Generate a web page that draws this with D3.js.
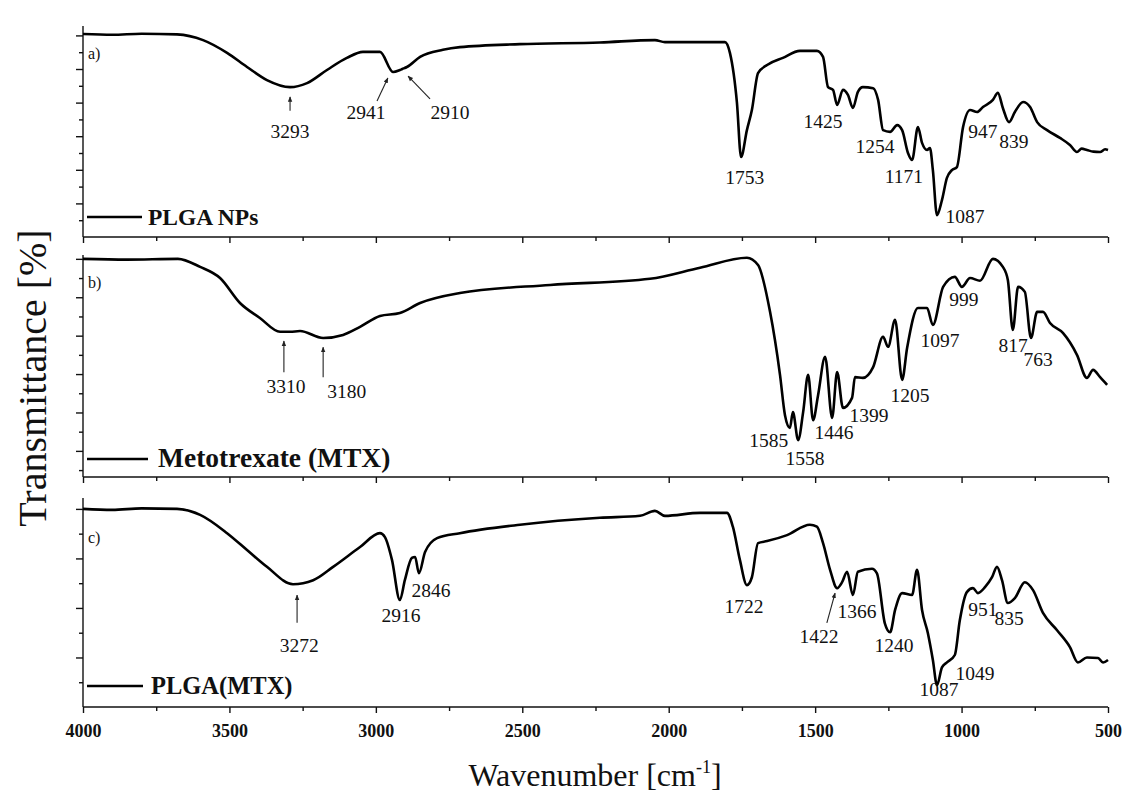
<!DOCTYPE html>
<html>
<head>
<meta charset="utf-8">
<script src="https://cdn.jsdelivr.net/npm/d3@7"></script>
<style>
  body { margin: 0; background: #fff; }
  svg text { font-family: "Liberation Serif", "Times New Roman", serif; fill: #111; }
</style>
</head>
<body>
<div id="chart"></div>
<script>
'use strict';

// ---- spectrum a) PLGA NPs ----
const wnA = [4000, 3900, 3800, 3679, 3590, 3508, 3440, 3372, 3293, 3235, 3167, 3099, 3044, 2986, 2941, 2918, 2910, 2894, 2849, 2771, 2713, 2508, 2235, 2047, 2013, 1893, 1808, 1791, 1767, 1753, 1733, 1716, 1695, 1664, 1610, 1552, 1494, 1473, 1456, 1439, 1425, 1405, 1388, 1371, 1354, 1337, 1302, 1285, 1268, 1244, 1220, 1203, 1183, 1169, 1149, 1135, 1118, 1108, 1098, 1084, 1067, 1050, 1033, 1016, 995, 971, 947, 927, 893, 876, 859, 838, 818, 790, 766, 742, 708, 664, 630, 606, 590, 572, 550, 527, 510, 500];
const tA = [60.4, 60.2, 60.5, 60.3, 58.6, 54.8, 50.6, 46.7, 44.6, 45.8, 49.7, 53.3, 55.1, 55.1, 49.1, 49.7, 50, 50.6, 53.6, 55.7, 56.5, 57.4, 57.9, 58.6, 58, 58, 58, 54.8, 39.9, 23.8, 31.8, 37.8, 48.8, 51.2, 53.3, 55.4, 55.4, 53.6, 44.6, 43.8, 39.3, 43.8, 42.3, 38.4, 43.2, 44.6, 44.3, 40.8, 31.8, 31.3, 33.3, 31.8, 25, 22.9, 32.7, 28, 25.9, 26.5, 19.9, 6.5, 11, 17.6, 19.9, 20.8, 32.7, 37.8, 37.2, 38.7, 40.8, 42.9, 38.4, 34.2, 37.2, 40.2, 38.7, 34.2, 31.8, 29.5, 27.4, 25.3, 26.3, 25.9, 25.4, 25.3, 26.1, 25.9];

// ---- spectrum b) Metotrexate ----
const wnB = [4000, 3850, 3676, 3600, 3532, 3464, 3396, 3327, 3293, 3259, 3180, 3112, 3054, 2986, 2918, 2849, 2713, 2405, 2064, 1893, 1733, 1695, 1654, 1620, 1603, 1586, 1576, 1558, 1541, 1524, 1507, 1490, 1466, 1442, 1425, 1405, 1374, 1364, 1337, 1302, 1268, 1251, 1227, 1203, 1186, 1149, 1118, 1098, 1063, 1023, 999, 971, 937, 893, 859, 842, 825, 807, 784, 763, 742, 722, 698, 654, 606, 572, 551, 527, 503];
const tB = [60, 59.8, 60, 57.9, 55, 48.5, 44.6, 41, 41, 41.2, 39.4, 40.2, 42.3, 45.1, 45.9, 48.5, 51.1, 53.2, 54.8, 57.7, 60.3, 58.4, 46.2, 29.8, 19.3, 16, 20.1, 12.8, 20.1, 29.8, 18, 24.5, 34.5, 18.6, 30.5, 21.2, 23.8, 29.2, 29, 31.8, 39.7, 37.1, 44.1, 28.5, 36.8, 47.2, 47.2, 42.8, 52.7, 55.3, 52.7, 55, 54.3, 60, 57.9, 54.5, 41.5, 52.7, 51.4, 39.4, 46.2, 46.2, 43.3, 40.7, 35, 29, 31.1, 29.2, 27.2];

// ---- spectrum c) PLGA(MTX) ----
const wnC = [4000, 3900, 3800, 3679, 3600, 3508, 3440, 3372, 3283, 3214, 3146, 3054, 2986, 2969, 2945, 2918, 2901, 2877, 2866, 2853, 2832, 2791, 2713, 2508, 2235, 2098, 2047, 2013, 1893, 1801, 1781, 1757, 1733, 1716, 1695, 1664, 1596, 1518, 1494, 1473, 1449, 1425, 1408, 1391, 1371, 1354, 1306, 1289, 1262, 1244, 1227, 1203, 1169, 1152, 1135, 1115, 1098, 1084, 1067, 1050, 1023, 1006, 982, 961, 944, 920, 896, 879, 862, 842, 818, 784, 756, 722, 674, 630, 603, 572, 534, 517, 500];
const tC = [40, 39.8, 40.1, 40, 38.8, 35.1, 31.7, 28.3, 24.8, 25.6, 28.3, 32.3, 35.1, 34.3, 29.7, 21.6, 25.6, 30.1, 30.3, 27, 31.3, 34.1, 35.1, 36.8, 38.2, 38.6, 39.6, 38.6, 39.2, 39.2, 36.4, 29.7, 24.6, 26.2, 33.1, 33.5, 34.7, 36.8, 36.4, 33.1, 27.7, 24, 25.2, 27.3, 22.6, 27.3, 27.9, 27, 16.9, 15.1, 19.6, 23, 22.6, 27.7, 19.6, 14.9, 9.5, 4.4, 8, 9, 10.5, 17.5, 23.2, 24, 23, 24.2, 26.2, 28.3, 25.6, 21, 22, 25.2, 23.6, 19, 15.5, 12.1, 9, 10, 9.9, 9, 9.5];

// peak labels: [text, wavenumber of label centre, transmittance of baseline]
const peaksA = [["3293", 3293, 29.6], ["2941", 3034, 35.2], ["2910", 2747, 35.2], ["1753", 1740, 15.7], ["1425", 1473, 32.5], ["1254", 1296, 24.9], ["1171", 1197, 16], ["1087", 988, 4.1], ["947", 927, 29.6], ["839", 821, 26.6]];
const peaksB = [["3310", 3307, 25.1], ["3180", 3099, 23.8], ["1585", 1658, 11], ["1558", 1535, 6.3], ["1446", 1436, 13.1], ["1399", 1316, 17.5], ["1205", 1176, 22.7], ["1097", 1074, 37], ["999", 992, 47.7], ["817", 824, 35.7], ["763", 739, 32.1]];
const peaksC = [["3272", 3262, 11.1], ["2916", 2914, 17.2], ["2846", 2812, 22.2], ["1722", 1743, 19], ["1422", 1487, 12.9], ["1366", 1357, 18], ["1240", 1231, 11.1], ["1087", 1077, 2.2], ["1049", 954, 5.5], ["951", 927, 18.4], ["835", 838, 16.6]];

// arrows: [wn from, t from, wn to, t to]
const arrowsA = [[3293, 37.6, 3293, 41.7], [2996, 40.5, 2959, 47.3], [2815, 41.1, 2890, 47.9]];
const arrowsB = [[3314, 30.5, 3314, 38.6], [3180, 29.2, 3180, 37.0]];
const arrowsC = [[3269, 17, 3269, 22.6], [1460, 17, 1432, 23]];

const xTicks = d3.range(4000, 499, -250);

const w = 1129;
const h = 796;

const svg = d3.select("#chart").append("svg")
  .attr("width", w)
  .attr("height", h);

svg.append("defs").append("marker")
  .attr("id", "arrow")
  .attr("viewBox", "0 0 10 10")
  .attr("refX", 9).attr("refY", 5)
  .attr("markerWidth", 5).attr("markerHeight", 6)
  .attr("orient", "auto")
  .append("path")
  .attr("d", "M0,1 L10,5 L0,9 z")
  .attr("fill", "#222");

const x = d3.scaleLinear().domain([4000, 500]).range([83, 1108]);

const panels = [
  { wn: wnA, t: tA, peaks: peaksA, arrows: arrowsA, top: 26, bottom: 237, dom: [0, 62.8], ticks: d3.range(5, 61, 5),
    tag: "a)", tagY: 59, name: "PLGA NPs", nameSize: 23.5, legY: 217, legX2: 142, textX: 148 },
  { wn: wnB, t: tB, peaks: peaksB, arrows: arrowsB, top: 255, bottom: 477, dom: [3.2, 61], ticks: d3.range(5, 61, 5),
    tag: "b)", tagY: 288, name: "Metotrexate (MTX)", nameSize: 27.5, legY: 459, legX2: 148, textX: 158 },
  { wn: wnC, t: tC, peaks: peaksC, arrows: arrowsC, top: 498, bottom: 707, dom: [0, 42.2], ticks: d3.range(5, 41, 5),
    tag: "c)", tagY: 543, name: "PLGA(MTX)", nameSize: 24.5, legY: 686, legX2: 143, textX: 151 }
];

panels.forEach((p, i) => {
  const y = d3.scaleLinear().domain(p.dom).range([p.bottom, p.top]);
  const g = svg.append("g");

  // left axis: major + minor ticks pointing out
  const major = p.ticks.filter(v => v % 10 === 0);
  const minor = p.ticks.filter(v => v % 10 !== 0);
  g.append("g").attr("transform", "translate(83,0)")
    .call(d3.axisLeft(y).tickValues(major).tickSize(7).tickFormat(""))
    .call(a => a.select(".domain").remove());
  g.append("g").attr("transform", "translate(83,0)")
    .call(d3.axisLeft(y).tickValues(minor).tickSize(4).tickFormat(""))
    .call(a => a.select(".domain").remove());
  g.append("line")
    .attr("x1", 83).attr("x2", 83)
    .attr("y1", p.top).attr("y2", p.bottom);

  // bottom axis, labels only on the last panel at every 500
  const xAxis = d3.axisBottom(x).tickValues(xTicks).tickSize(6)
    .tickFormat(d => (i === 2 && d % 500 === 0) ? d : "");
  const xa = g.append("g").attr("transform", "translate(0," + p.bottom + ")").call(xAxis);
  xa.select(".domain").attr("d", "M83,0H1108");
  xa.selectAll(".tick line").attr("y2", d => d % 500 === 0 ? 6 : 4);
  xa.selectAll(".tick text")
    .attr("dy", "1.15em")
    .style("font-family", "'Liberation Serif', serif")
    .style("font-size", "18px")
    .style("font-weight", "bold")
    .style("fill", "#111");

  g.selectAll("line, path.domain").attr("stroke", "#111").attr("stroke-width", 1.4);
  g.selectAll(".tick line").attr("stroke", "#111").attr("stroke-width", 1.4);

  // spectrum
  const pts = p.wn.map((v, k) => [v, p.t[k]]);
  g.append("path")
    .datum(pts)
    .attr("fill", "none")
    .attr("stroke", "#000")
    .attr("stroke-width", 2.6)
    .attr("stroke-linejoin", "round")
    .attr("d", d3.line().x(d => x(d[0])).y(d => y(d[1])).curve(d3.curveMonotoneX));

  // peak labels
  g.selectAll("text.peak")
    .data(p.peaks)
    .enter().append("text")
    .attr("class", "peak")
    .attr("x", d => x(d[1]))
    .attr("y", d => y(d[2]))
    .attr("text-anchor", "middle")
    .style("font-size", "19.5px")
    .text(d => d[0]);

  // arrows
  g.selectAll("line.arrow")
    .data(p.arrows)
    .enter().append("line")
    .attr("class", "arrow")
    .attr("x1", d => x(d[0])).attr("y1", d => y(d[1]))
    .attr("x2", d => x(d[2])).attr("y2", d => y(d[3]))
    .attr("stroke", "#222").attr("stroke-width", 1.1)
    .attr("marker-end", "url(#arrow)");

  // panel tag
  g.append("text")
    .attr("x", 88).attr("y", p.tagY)
    .style("font-size", "16px")
    .text(p.tag);

  // legend
  g.append("line")
    .attr("x1", 87).attr("x2", p.legX2)
    .attr("y1", p.legY).attr("y2", p.legY)
    .attr("stroke", "#000").attr("stroke-width", 2.6);
  g.append("text")
    .attr("x", p.textX).attr("y", p.legY + 8)
    .style("font-size", p.nameSize + "px")
    .style("font-weight", "bold")
    .text(p.name);
});

// axis titles
svg.append("text")
  .attr("transform", "translate(46,378) rotate(-90)")
  .attr("text-anchor", "middle")
  .style("font-size", "40px")
  .style("fill", "#111")
  .text("Transmittance [%]");

const xt = svg.append("text")
  .attr("x", 595).attr("y", 786)
  .attr("text-anchor", "middle")
  .style("font-size", "32px")
  .style("fill", "#111");
xt.append("tspan").text("Wavenumber [cm");
xt.append("tspan").attr("dy", -13).style("font-size", "18px").text("-1");
xt.append("tspan").attr("dy", 13).text("]");
</script>
</body>
</html>
